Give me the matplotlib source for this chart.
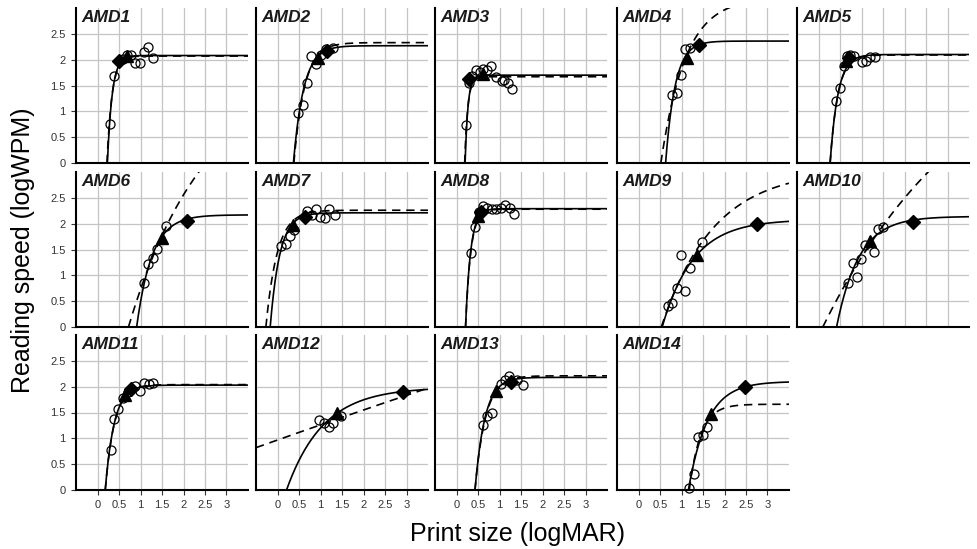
import numpy as np
import matplotlib
matplotlib.use("Agg")
import matplotlib.pyplot as plt

plt.rcParams['font.family'] = ['Liberation Sans', 'DejaVu Sans']

names = ["AMD1", "AMD2", "AMD3", "AMD4", "AMD5", "AMD6", "AMD7",
         "AMD8", "AMD9", "AMD10", "AMD11", "AMD12", "AMD13", "AMD14"]

# measured reading speeds (open circles)
circ_x = [
    [0.29, 0.38, 0.6, 0.68, 0.79, 0.87, 0.99, 1.08, 1.18, 1.28],
    [0.48, 0.59, 0.69, 0.78, 0.9, 1.0, 1.13, 1.3],
    [0.22, 0.3, 0.36, 0.45, 0.55, 0.62, 0.72, 0.8, 0.93, 1.05, 1.1, 1.2, 1.3],
    [0.77, 0.89, 0.99, 1.08, 1.2],
    [0.41, 0.5, 0.59, 0.66, 0.74, 0.82, 1.0, 1.1, 1.2, 1.31],
    [1.09, 1.18, 1.28, 1.38, 1.59],
    [0.08, 0.2, 0.29, 0.39, 0.68, 0.8, 0.9, 0.99, 1.1, 1.2, 1.34],
    [0.33, 0.42, 0.52, 0.62, 0.72, 0.83, 0.93, 1.03, 1.12, 1.24, 1.34],
    [0.68, 0.79, 0.89, 1.09, 1.19, 0.98, 1.48],
    [0.69, 0.9, 0.8, 0.99, 1.08, 1.3, 1.39, 1.49],
    [0.31, 0.38, 0.48, 0.59, 0.7, 0.87, 0.99, 1.08, 1.2, 1.3],
    [0.97, 1.08, 1.2, 1.3, 1.47],
    [0.62, 0.72, 0.83, 1.03, 1.12, 1.23, 1.4, 1.54],
    [1.18, 1.28, 1.39, 1.49, 1.6],
]
circ_y = [
    [0.75, 1.68, 2.02, 2.1, 2.09, 1.94, 1.93, 2.15, 2.24, 2.04],
    [0.96, 1.12, 1.55, 2.07, 1.91, 2.1, 2.2, 2.23],
    [0.73, 1.55, 1.68, 1.8, 1.76, 1.82, 1.8, 1.87, 1.66, 1.58, 1.6, 1.54, 1.44],
    [1.32, 1.35, 1.70, 2.2, 2.23],
    [1.2, 1.46, 1.88, 2.08, 2.1, 2.07, 1.96, 1.97, 2.06, 2.06],
    [0.86, 1.21, 1.34, 1.51, 1.95],
    [1.57, 1.6, 1.77, 1.88, 2.24, 2.17, 2.28, 2.13, 2.11, 2.28, 2.17],
    [1.44, 1.93, 2.22, 2.35, 2.31, 2.29, 2.29, 2.3, 2.37, 2.3, 2.19],
    [0.41, 0.46, 0.75, 0.70, 1.15, 1.39, 1.64],
    [0.85, 0.97, 1.24, 1.31, 1.59, 1.46, 1.9, 1.94],
    [0.77, 1.38, 1.57, 1.78, 1.9, 2.02, 1.91, 2.08, 2.05, 2.07],
    [1.35, 1.3, 1.22, 1.3, 1.43],
    [1.26, 1.44, 1.49, 2.05, 2.12, 2.2, 2.12, 2.04],
    [0.03, 0.31, 1.03, 1.06, 1.21],
]

# filled triangles and diamonds
tri_x = [0.68, 0.95, 0.62, 1.12, 0.63, 1.51, 0.37, 0.5, 1.35, 1.2, 0.63, 1.39, 0.93, 1.69]
tri_y = [2.07, 2.04, 1.72, 2.04, 1.98, 1.73, 1.97, 2.15, 1.39, 1.66, 1.83, 1.5, 1.92, 1.47]
dia_x = [0.5, 1.16, 0.3, 1.41, 0.7, 2.07, 0.64, 0.56, 2.75, 2.2, 0.78, 2.93, 1.26, 2.48]
dia_y = [1.97, 2.17, 1.62, 2.28, 2.04, 2.06, 2.13, 2.22, 2.0, 2.04, 1.95, 1.9, 2.1, 1.99]

# exponential fits: y = A * (1 - exp(-k * (x - x0)))
solid_A = [2.08, 2.27, 1.70, 2.36, 2.1, 2.17, 2.21, 2.29, 2.08, 2.14, 2.03, 1.99, 2.18, 2.1]
solid_k = [9, 4.2, 15, 4.5, 5.5, 2.8, 4.5, 8.5, 1.38, 1.92, 4.8, 1.17, 4.4, 2.27]
solid_x0 = [0.23, 0.37, 0.2, 0.63, 0.27, 0.91, -0.17, 0.21, 0.55, 0.42, 0.18, 0.21, 0.43, 1.16]
dash_A = [2.07, 2.33, 1.67, 3.2, 2.09, 5, 2.26, 2.28, 3.05, 6, 2.04, 20, 2.21, 1.66]
dash_k = [8.5, 4.0, 14, 1.76, 5.5, 0.56, 3.8, 8.3, 0.82, 0.283, 4.7, 0.0155, 4.1, 3.8]
dash_x0 = [0.22, 0.38, 0.19, 0.52, 0.27, 0.72, -0.27, 0.21, 0.53, 0.1, 0.18, -3.2, 0.43, 1.18]

W, H = 977, 549
fig = plt.figure(figsize=(W / 100, H / 100), dpi=100)

col_left = [76, 256, 435, 617, 797]
row_top = [8, 172, 335]
pw, ph = 172, 155


def curve(A, k, x0):
    xs = np.linspace(max(x0, -0.5), 3.5, 400)
    return xs, A * (1 - np.exp(-k * (xs - x0)))


for i, name in enumerate(names):
    r, c = divmod(i, 5)
    ax = fig.add_axes([col_left[c] / W, 1 - (row_top[r] + ph) / H, pw / W, ph / H])
    ax.set_xlim(-0.5, 3.5)
    ax.set_ylim(0, 3)
    ax.set_xticks(np.arange(0, 3.01, 0.5))
    ax.set_yticks(np.arange(0, 2.51, 0.5))
    ax.grid(True, color='#c4c4c4', lw=0.9)
    ax.set_axisbelow(True)
    for s in ['top', 'right']:
        ax.spines[s].set_visible(False)
    for s in ['left', 'bottom']:
        ax.spines[s].set_linewidth(1.5)

    xs, ys = curve(solid_A[i], solid_k[i], solid_x0[i])
    ax.plot(xs, ys, color='black', lw=1.2)
    xs, ys = curve(dash_A[i], dash_k[i], dash_x0[i])
    ax.plot(xs, ys, color='black', lw=1.2, ls=(0, (5, 3.5)))

    ax.plot(circ_x[i], circ_y[i], 'o', mfc='none', mec='black', ms=6.5, mew=0.9,
            clip_on=False)
    ax.plot(tri_x[i], tri_y[i], '^', color='black', ms=8.5)
    ax.plot(dia_x[i], dia_y[i], 'D', color='black', ms=7)

    ax.text(0.03, 0.985, name, transform=ax.transAxes, ha='left', va='top',
            fontsize=12.5, fontweight='bold', fontstyle='italic', color='#1a1a1a')

    show_y = (c == 0)
    show_x = (r == 2)
    ax.tick_params(axis='y', labelleft=show_y, length=3.5 if show_y else 0,
                   labelsize=8, colors='#333333', pad=4)
    ax.tick_params(axis='x', labelbottom=show_x, length=3.5 if show_x else 0,
                   labelsize=8, colors='#333333', pad=4)
    ax.set_yticklabels(['0', '0.5', '1', '1.5', '2', '2.5'])
    ax.set_xticklabels(['0', '0.5', '1', '1.5', '2', '2.5', '3'])

fig.text(517 / W, 1 - 534 / H, "Print size (logMAR)", ha='center', va='center',
         fontsize=18)
fig.text(23 / W, 1 - 250 / H, "Reading speed (logWPM)", ha='center', va='center',
         rotation=90, fontsize=18)

fig.savefig("out.png", dpi=100)
